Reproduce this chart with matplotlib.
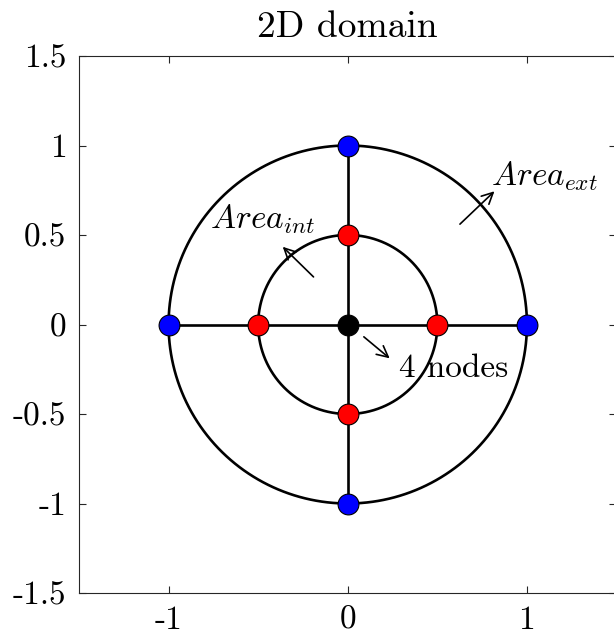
import numpy as np
import matplotlib
matplotlib.use("Agg")
import matplotlib.pyplot as plt

plt.rcParams['mathtext.fontset'] = 'cm'
plt.rcParams['font.family'] = ['cmr10', 'DejaVu Serif']
plt.rcParams['axes.unicode_minus'] = False

# geometry of the domain
radii = [1.0, 0.5]
cross_x = [-1, 1]
cross_y = [-1, 1]

# nodes
ext_x = [0, 1, 0, -1]
ext_y = [1, 0, -1, 0]
int_x = [0, 0.5, 0, -0.5]
int_y = [0.5, 0, -0.5, 0]
ctr_x = [0]
ctr_y = [0]

yticks = [-1.5, -1, -0.5, 0, 0.5, 1, 1.5]
ytick_labels = ['-1.5', '-1', '-0.5', '0', '0.5', '1', '1.5']
xticks = [-1, 0, 1]
xtick_labels = ['-1', '0', '1']

fig = plt.figure(figsize=(6.14, 6.36), dpi=100)
ax = fig.add_axes([79/614, 43/636, 537.5/614, 537/636])

t = np.linspace(0, 2*np.pi, 400)
for r in radii:
    ax.plot(r*np.cos(t), r*np.sin(t), color='k', lw=1.9)
ax.plot(cross_x, [0, 0], color='k', lw=1.9)
ax.plot([0, 0], cross_y, color='k', lw=1.9)

ms = 15
ax.plot(ext_x, ext_y, 'o', ms=ms, mfc='b', mec='k', mew=0.8, zorder=5)
ax.plot(int_x, int_y, 'o', ms=ms, mfc='r', mec='k', mew=0.8, zorder=5)
ax.plot(ctr_x, ctr_y, 'o', ms=ms, mfc='k', mec='k', mew=0.8, zorder=5)

# labels with arrows
arr = dict(arrowstyle='->', lw=1.2, color='k', mutation_scale=20)
ax.annotate('', xy=(0.83, 0.755), xytext=(0.615, 0.55), arrowprops=arr)
ax.text(0.80, 0.78, r'$Area_{ext}$', fontsize=24)
ax.annotate('', xy=(-0.374, 0.445), xytext=(-0.18, 0.255), arrowprops=arr)
ax.text(-0.77, 0.54, r'$Area_{int}$', fontsize=24)
ax.annotate('', xy=(0.246, -0.199), xytext=(0.078, -0.059), arrowprops=arr)
ax.text(0.285, -0.294, '4 nodes', fontsize=24)

ax.set_xlim(-1.5, 1.5)
ax.set_ylim(-1.5, 1.5)
ax.set_xticks(xticks)
ax.set_xticklabels(xtick_labels)
ax.set_yticks(yticks)
ax.set_yticklabels(ytick_labels)
ax.tick_params(direction='in', labelsize=24, top=True, right=True, length=5,
               color='#262626', pad=9)
for s in ax.spines.values():
    s.set_color('#262626')
    s.set_linewidth(0.8)
ax.set_title('2D domain', fontsize=27, pad=14)

plt.savefig('out.png', dpi=100)
